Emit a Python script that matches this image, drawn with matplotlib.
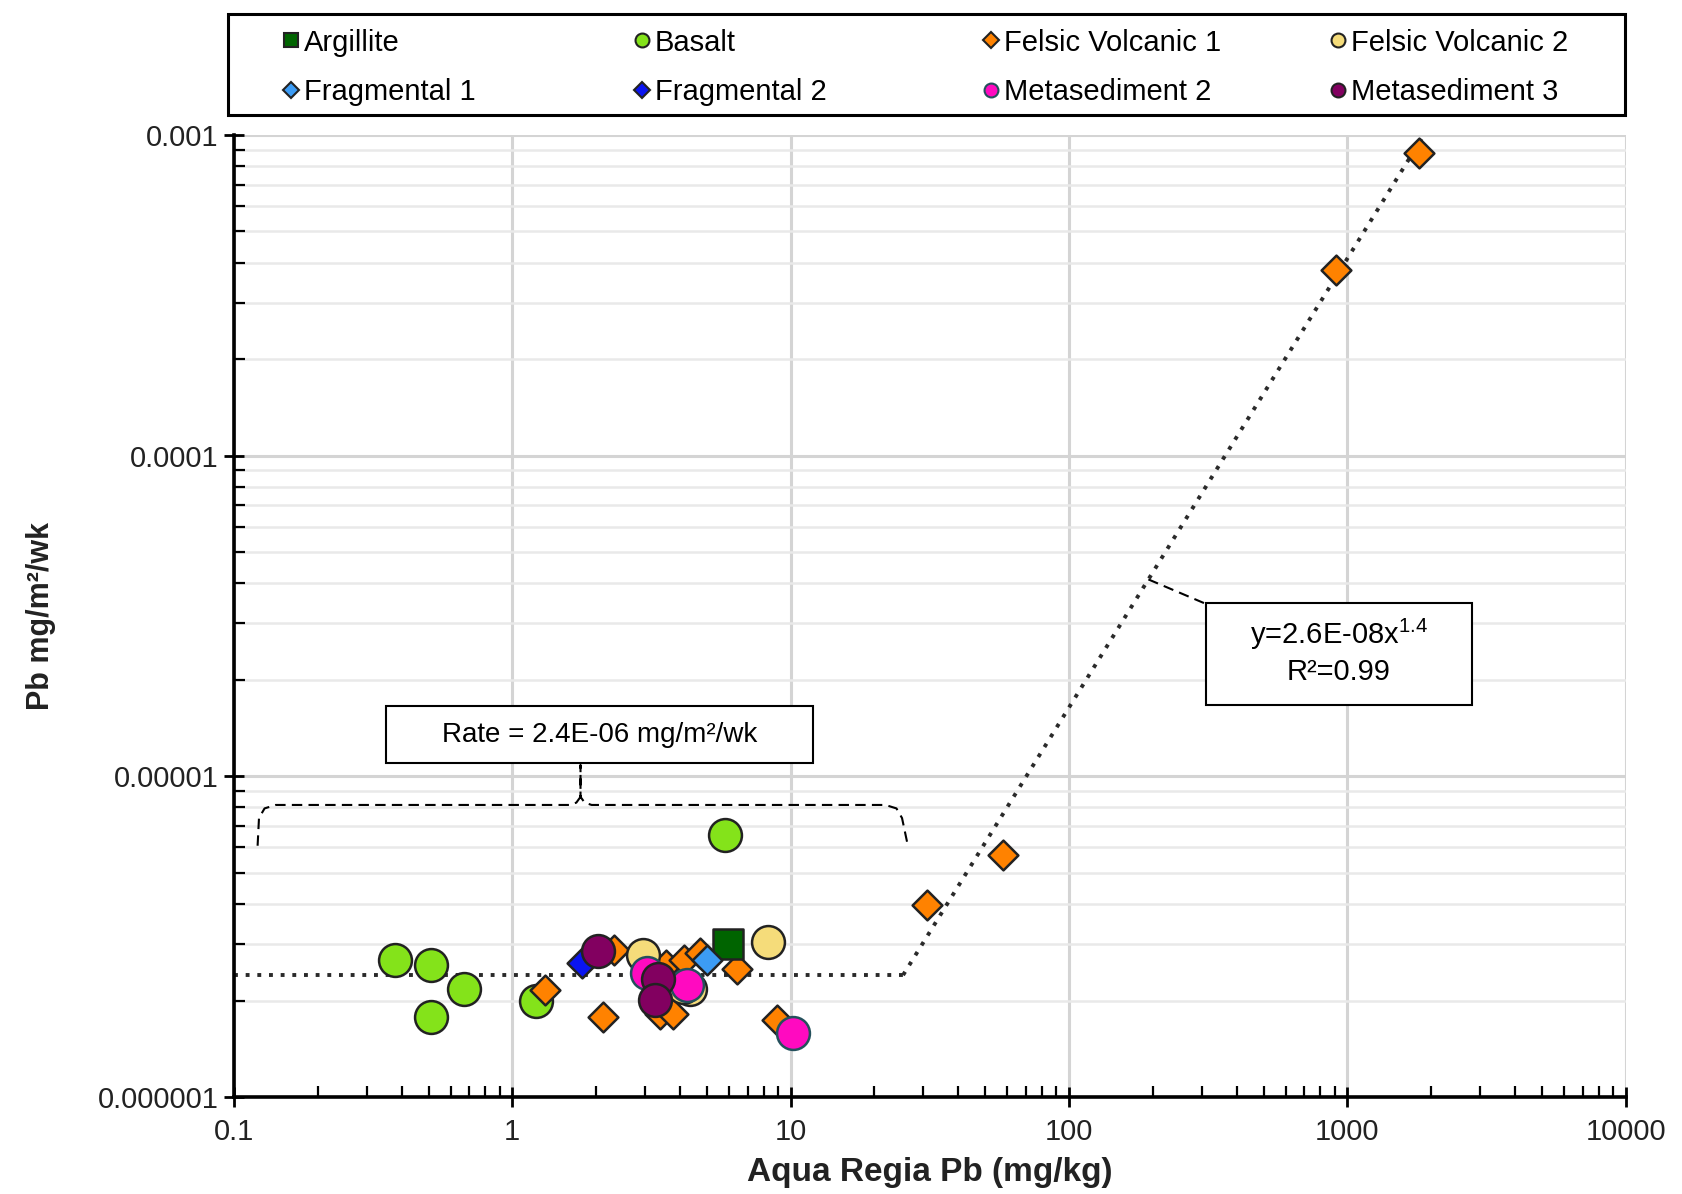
import matplotlib
matplotlib.use("Agg")
import matplotlib.pyplot as plt
import numpy as np
from matplotlib.lines import Line2D
from matplotlib.patches import Rectangle
from matplotlib.ticker import FixedLocator, LogLocator, NullFormatter

plt.rcParams['font.family'] = ['Liberation Sans', 'DejaVu Sans']
plt.rcParams['mathtext.fontset'] = 'custom'
plt.rcParams['mathtext.rm'] = 'Liberation Sans'

######## data: aqua regia Pb (mg/kg) vs Pb flux (mg/m2/wk)
argillite_x = [5.95]
argillite_y = [3.01e-6]

basalt_x = [0.38, 0.51, 0.67, 0.51, 1.22, 5.8]
basalt_y = [2.67e-6, 2.58e-6, 2.18e-6, 1.78e-6, 2.0e-6, 6.57e-6]

felsic1_x = [1813, 907, 57.8, 31.0, 1.31, 2.12, 8.95, 6.44, 2.32, 3.58, 4.13, 4.72, 3.40, 3.78]
felsic1_y = [8.77e-4, 3.79e-4, 5.67e-6, 3.98e-6, 2.16e-6, 1.78e-6, 1.74e-6, 2.5e-6,
             2.88e-6, 2.58e-6, 2.68e-6, 2.81e-6, 1.82e-6, 1.82e-6]

felsic2_x = [2.96, 8.32, 4.35, 4.1]
felsic2_y = [2.77e-6, 3.05e-6, 2.18e-6, 2.2e-6]

frag1_x = [5.0]
frag1_y = [2.68e-6]

frag2_x = [1.78]
frag2_y = [2.61e-6]

meta2_x = [3.04, 4.24, 10.2]
meta2_y = [2.43e-6, 2.24e-6, 1.58e-6]

meta3_x = [2.04, 3.35, 3.26]
meta3_y = [2.85e-6, 2.34e-6, 2.01e-6]

# fitted relations
rate = 2.4e-6          # flat rate below threshold
fit_a = 2.6e-8         # y = a * x^b
fit_b = 1.4
fit_xmax = 1850.

x_ticks = [0.1, 1, 10, 100, 1000, 10000]
x_ticklabels = ['0.1', '1', '10', '100', '1000', '10000']
y_ticks = [1e-6, 1e-5, 1e-4, 1e-3]
y_ticklabels = ['0.000001', '0.00001', '0.0001', '0.001']

############################

fig = plt.figure(figsize=(16.83, 11.94), dpi=100)
ax = fig.add_axes([0.139, 0.0812, 0.827, 0.8058])

ax.set_xscale('log')
ax.set_yscale('log')
ax.set_xlim(0.1, 10000)
ax.set_ylim(1e-6, 1e-3)

# grid
ax.grid(True, which='major', axis='both', color='#d4d4d4', lw=2.2, zorder=0)
ax.yaxis.set_minor_locator(LogLocator(base=10, subs=np.arange(2, 10)))
ax.xaxis.set_minor_locator(LogLocator(base=10, subs=np.arange(2, 10)))
ax.grid(True, which='minor', axis='y', color='#e9e9e9', lw=1.8, zorder=0)
ax.set_axisbelow(True)

# trend lines
x_break = (rate / fit_a) ** (1. / fit_b)
ax.plot([0.1, x_break], [rate, rate], ls=(0, (1, 2)), color='#2a2a2a', lw=2.8, zorder=2)
xf = np.array([x_break, fit_xmax])
ax.plot(xf, fit_a * xf ** fit_b, ls=(0, (1, 2)), color='#2a2a2a', lw=2.8, zorder=2)

ec = '#222222'
ax.scatter(basalt_x, basalt_y, s=560, marker='o', c='#84e31a', edgecolors=ec, lw=1.8, zorder=3)
ax.scatter(felsic1_x, felsic1_y, s=230, marker='D', c='#ff8200', edgecolors=ec, lw=1.8, zorder=4)
ax.scatter(felsic2_x, felsic2_y, s=560, marker='o', c='#f5dc7a', edgecolors=ec, lw=1.8, zorder=5)
ax.scatter(argillite_x, argillite_y, s=460, marker='s', c='#006400', edgecolors=ec, lw=1.8, zorder=6)
ax.scatter(frag1_x, frag1_y, s=230, marker='D', c='#3c9cf5', edgecolors=ec, lw=1.8, zorder=7)
ax.scatter(frag2_x, frag2_y, s=230, marker='D', c='#0a14f0', edgecolors=ec, lw=1.8, zorder=7)
ax.scatter(meta2_x, meta2_y, s=560, marker='o', c='#ff0ac0', edgecolors='#24505c', lw=1.8, zorder=8)
ax.scatter(meta3_x, meta3_y, s=560, marker='o', c='#820060', edgecolors=ec, lw=1.8, zorder=9)

# axes styling
for side in ['top', 'right']:
    ax.spines[side].set_visible(False)
for side in ['left', 'bottom']:
    ax.spines[side].set_linewidth(2.6)
ax.xaxis.set_major_locator(FixedLocator(x_ticks))
ax.set_xticklabels(x_ticklabels)
ax.yaxis.set_major_locator(FixedLocator(y_ticks))
ax.set_yticklabels(y_ticklabels)
ax.xaxis.set_minor_formatter(NullFormatter())
ax.yaxis.set_minor_formatter(NullFormatter())
ax.tick_params(which='major', direction='inout', length=14, width=2, labelsize=21,
               labelcolor='#222222')
ax.tick_params(which='minor', direction='in', length=8, width=1.6)
ax.tick_params(axis='x', which='major', pad=8)
ax.tick_params(axis='y', which='major', pad=4)

ax.set_xlabel('Aqua Regia Pb (mg/kg)', fontsize=24, fontweight='bold', color='#222222', labelpad=8)
ax.set_ylabel('Pb mg/m²/wk', fontsize=22, fontweight='bold', color='#222222', labelpad=30)

# rate box and brace
ax.add_patch(Rectangle((0.1095, 0.3471), 0.3068, 0.0592, transform=ax.transAxes,
                       fc='white', ec='black', lw=1.5, zorder=10))
ax.text(0.263, 0.3767, 'Rate = 2.4E-06 mg/m²/wk', transform=ax.transAxes,
        ha='center', va='center', fontsize=20, zorder=11)
bx = [0.017, 0.018, 0.022, 0.030, 0.241, 0.246, 0.249, 0.249,
      0.249, 0.252, 0.257, 0.468, 0.476, 0.480, 0.4842]
by = [0.2612, 0.290, 0.300, 0.3036, 0.3036, 0.306, 0.312, 0.3449,
      0.312, 0.306, 0.3036, 0.3036, 0.300, 0.290, 0.2612]
ax.add_line(Line2D(bx, by, transform=ax.transAxes, color='black', lw=1.5,
                   ls=(0, (5, 3)), zorder=10))

# power fit box
ax.add_patch(Rectangle((0.6985, 0.4074), 0.1912, 0.106, transform=ax.transAxes,
                       fc='white', ec='black', lw=1.5, zorder=10))
ax.text(0.794, 0.4805, 'y=2.6E-08x$^{1.4}$', transform=ax.transAxes,
        ha='center', va='center', fontsize=21, zorder=11)
ax.text(0.794, 0.442, 'R²=0.99', transform=ax.transAxes,
        ha='center', va='center', fontsize=21, zorder=11)
ax.add_line(Line2D([0.657, 0.697], [0.538, 0.5134], transform=ax.transAxes,
                   color='black', lw=1.5, ls=(0, (5, 3)), zorder=10))

# legend: four columns in one frame
fig.patches.append(Rectangle((0.1353, 0.9037), 0.8302, 0.0846, transform=fig.transFigure,
                             fc='white', ec='black', lw=2.2))
columns = [
    [('Argillite', 's', '#006400', ec), ('Fragmental 1', 'D', '#3c9cf5', ec)],
    [('Basalt', 'o', '#84e31a', ec), ('Fragmental 2', 'D', '#0a14f0', ec)],
    [('Felsic Volcanic 1', 'D', '#ff8200', ec), ('Metasediment 2', 'o', '#ff0ac0', '#24505c')],
    [('Felsic Volcanic 2', 'o', '#f5dc7a', ec), ('Metasediment 3', 'o', '#820060', ec)],
]
col_x = [0.1676, 0.376, 0.5835, 0.790]
for cx, col in zip(col_x, columns):
    handles = [Line2D([], [], ls='none', marker=m, ms=(8 if m == 'D' else 10), mfc=c, mec=e,
                      mew=1.5, label=lab) for lab, m, c, e in col]
    leg = fig.legend(handles=handles, loc='upper left', bbox_to_anchor=(cx, 0.976),
                     frameon=False, fontsize=21, handlelength=0.6, handletextpad=0.15,
                     labelspacing=0.73, borderaxespad=0, borderpad=0)

fig.savefig('out.png', dpi=100)
